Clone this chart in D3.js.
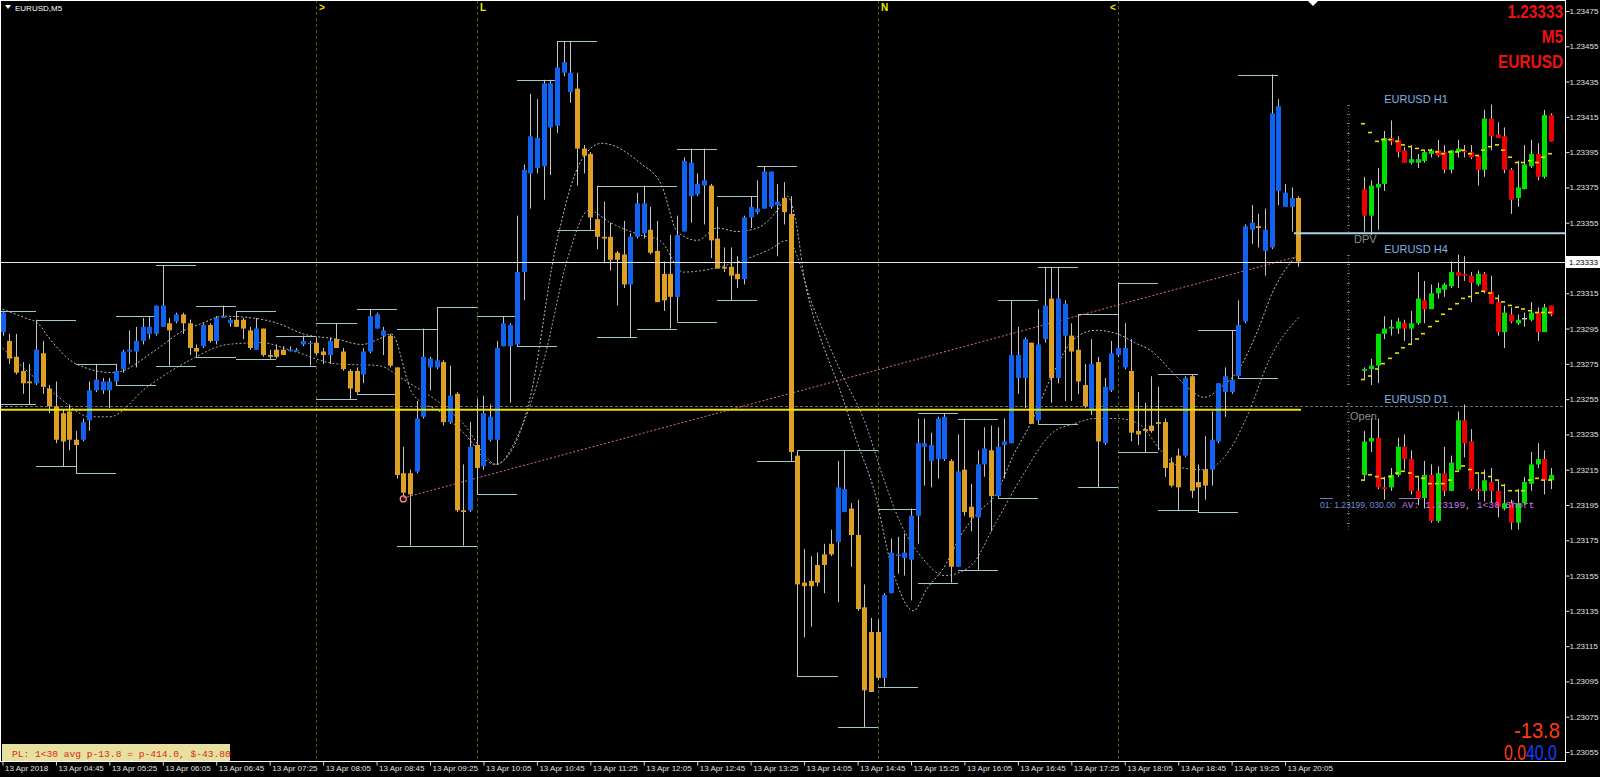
<!DOCTYPE html>
<html><head><meta charset="utf-8">
<script src="https://cdn.jsdelivr.net/npm/d3@7"></script>
<style>
body{margin:0;background:#000;overflow:hidden}
svg{display:block}
</style>
</head><body>
<svg id="c" width="1600" height="777" font-family="Liberation Sans, Arial, sans-serif"></svg>
<script>
// ---------- DATA: EURUSD M5, 13 Apr 2018 04:05 .. 20:15 (195 bars) ----------
const open = [1.23293,1.23288,1.23279,1.23271,1.23265,1.23264,1.23281,1.23261,1.23251,1.23247,
1.23248,1.23232,1.23232,1.23243,1.23260,1.23260,1.23260,1.23265,1.23272,1.23282,
1.23282,1.23288,1.23292,1.23292,1.23296,1.23298,1.23299,1.23303,1.23298,1.23284,
1.23285,1.23297,1.23288,1.23301,1.23298,1.23300,1.23300,1.23294,1.23283,1.23295,
1.23280,1.23283,1.23283,1.23283,1.23283,1.23286,1.23287,1.23287,1.23282,1.23280,
1.23289,1.23282,1.23271,1.23271,1.23269,1.23282,1.23295,1.23291,1.23291,1.23273,
1.23213,1.23213,1.23214,1.23245,1.23273,1.23273,1.23276,1.23242,1.23258,1.23192,
1.23192,1.23229,1.23217,1.23232,1.23232,1.23285,1.23285,1.23286,1.23327,1.23383,
1.23386,1.23387,1.23409,1.23410,1.23440,1.23429,1.23431,1.23397,1.23394,1.23357,
1.23347,1.23347,1.23338,1.23337,1.23320,1.23347,1.23349,1.23351,1.23339,1.23326,
1.23326,1.23313,1.23350,1.23370,1.23371,1.23376,1.23376,1.23346,1.23330,1.23330,
1.23326,1.23323,1.23358,1.23361,1.23363,1.23364,1.23365,1.23369,1.23360,1.23223,
1.23151,1.23152,1.23161,1.23167,1.23173,1.23174,1.23191,1.23193,1.23178,1.23137,
1.23123,1.23123,1.23097,1.23145,1.23167,1.23165,1.23164,1.23189,1.23228,1.23220,
1.23221,1.23221,1.23220,1.23160,1.23215,1.23194,1.23188,1.23218,1.23226,1.23200,
1.23229,1.23230,1.23267,1.23267,1.23287,1.23243,1.23289,1.23312,1.23267,1.23291,
1.23291,1.23283,1.23263,1.23249,1.23276,1.23230,1.23260,1.23280,1.23273,1.23271,
1.23237,1.23238,1.23240,1.23242,1.23242,1.23219,1.23223,1.23223,1.23268,1.23208,
1.23215,1.23215,1.23231,1.23259,1.23259,1.23268,1.23299,1.23351,1.23353,1.23339,
1.23341,1.23373,1.23364,1.23364,1.23369];
const high = [1.23305,1.23292,1.23292,1.23276,1.23275,1.23300,1.23288,1.23263,1.23265,1.23249,
1.23252,1.23237,1.23244,1.23265,1.23275,1.23267,1.23267,1.23275,1.23283,1.23294,
1.23296,1.23301,1.23302,1.23308,1.23331,1.23301,1.23304,1.23304,1.23300,1.23286,
1.23298,1.23298,1.23302,1.23308,1.23301,1.23305,1.23301,1.23296,1.23301,1.23295,
1.23283,1.23286,1.23285,1.23285,1.23284,1.23291,1.23288,1.23290,1.23284,1.23290,
1.23298,1.23284,1.23272,1.23273,1.23284,1.23306,1.23304,1.23296,1.23292,1.23273,
1.23228,1.23215,1.23254,1.23295,1.23279,1.23307,1.23277,1.23274,1.23259,1.23218,
1.23242,1.23255,1.23257,1.23252,1.23288,1.23302,1.23298,1.23359,1.23388,1.23428,
1.23425,1.23436,1.23436,1.23458,1.23458,1.23458,1.23440,1.23399,1.23395,1.23376,
1.23367,1.23355,1.23339,1.23356,1.23349,1.23372,1.23376,1.23364,1.23356,1.23333,
1.23348,1.23359,1.23392,1.23397,1.23383,1.23397,1.23377,1.23364,1.23341,1.23341,
1.23336,1.23359,1.23370,1.23379,1.23387,1.23384,1.23377,1.23378,1.23370,1.23226,
1.23170,1.23166,1.23168,1.23173,1.23181,1.23220,1.23226,1.23196,1.23198,1.23150,
1.23131,1.23130,1.23145,1.23176,1.23177,1.23179,1.23193,1.23244,1.23244,1.23236,
1.23245,1.23247,1.23221,1.23235,1.23244,1.23207,1.23226,1.23239,1.23240,1.23239,
1.23244,1.23311,1.23296,1.23290,1.23287,1.23306,1.23330,1.23330,1.23330,1.23311,
1.23298,1.23303,1.23275,1.23289,1.23279,1.23267,1.23288,1.23321,1.23298,1.23289,
1.23259,1.23253,1.23268,1.23262,1.23244,1.23222,1.23227,1.23268,1.23269,1.23218,
1.23234,1.23248,1.23264,1.23273,1.23294,1.23311,1.23354,1.23365,1.23360,1.23363,
1.23439,1.23425,1.23377,1.23375,1.23370];
const low = [1.23291,1.23275,1.23269,1.23258,1.23252,1.23263,1.23258,1.23247,1.23230,1.23217,
1.23226,1.23213,1.23231,1.23237,1.23259,1.23258,1.23250,1.23263,1.23270,1.23275,
1.23273,1.23286,1.23289,1.23291,1.23296,1.23274,1.23298,1.23292,1.23280,1.23279,
1.23284,1.23287,1.23286,1.23301,1.23296,1.23296,1.23289,1.23283,1.23283,1.23279,
1.23278,1.23278,1.23280,1.23282,1.23282,1.23285,1.23274,1.23280,1.23275,1.23275,
1.23284,1.23271,1.23255,1.23258,1.23264,1.23281,1.23295,1.23280,1.23273,1.23210,
1.23200,1.23172,1.23213,1.23244,1.23260,1.23272,1.23240,1.23241,1.23191,1.23172,
1.23191,1.23201,1.23215,1.23231,1.23218,1.23285,1.23253,1.23285,1.23311,1.23363,
1.23383,1.23368,1.23382,1.23406,1.23438,1.23423,1.23376,1.23383,1.23351,1.23340,
1.23332,1.23328,1.23308,1.23318,1.23290,1.23346,1.23346,1.23337,1.23310,1.23305,
1.23295,1.23299,1.23350,1.23355,1.23370,1.23354,1.23335,1.23329,1.23327,1.23311,
1.23318,1.23320,1.23352,1.23360,1.23363,1.23363,1.23336,1.23354,1.23220,1.23098,
1.23120,1.23126,1.23149,1.23145,1.23166,1.23140,1.23191,1.23160,1.23135,1.23069,
1.23089,1.23096,1.23092,1.23145,1.23156,1.23155,1.23141,1.23173,1.23206,1.23205,
1.23210,1.23220,1.23151,1.23160,1.23189,1.23180,1.23158,1.23211,1.23180,1.23199,
1.23210,1.23230,1.23258,1.23250,1.23241,1.23241,1.23287,1.23253,1.23264,1.23254,
1.23254,1.23258,1.23250,1.23246,1.23205,1.23229,1.23259,1.23279,1.23272,1.23231,
1.23229,1.23225,1.23236,1.23226,1.23211,1.23205,1.23192,1.23222,1.23199,1.23191,
1.23198,1.23206,1.23230,1.23245,1.23258,1.23267,1.23298,1.23343,1.23341,1.23325,
1.23340,1.23365,1.23364,1.23350,1.23330];
const close = [1.23304,1.23278,1.23270,1.23264,1.23264,1.23283,1.23262,1.23251,1.23232,1.23231,
1.23232,1.23229,1.23242,1.23260,1.23266,1.23265,1.23265,1.23271,1.23282,1.23283,
1.23288,1.23296,1.23296,1.23308,1.23308,1.23294,1.23303,1.23298,1.23284,1.23282,
1.23297,1.23288,1.23301,1.23302,1.23300,1.23296,1.23295,1.23284,1.23295,1.23280,
1.23279,1.23279,1.23280,1.23283,1.23283,1.23288,1.23287,1.23281,1.23280,1.23288,
1.23284,1.23272,1.23261,1.23259,1.23282,1.23302,1.23303,1.23294,1.23274,1.23212,
1.23202,1.23201,1.23244,1.23279,1.23278,1.23277,1.23242,1.23257,1.23192,1.23191,
1.23228,1.23216,1.23247,1.23245,1.23284,1.23298,1.23297,1.23327,1.23385,1.23404,
1.23403,1.23434,1.23434,1.23443,1.23446,1.23440,1.23397,1.23393,1.23358,1.23347,
1.23346,1.23334,1.23334,1.23320,1.23347,1.23366,1.23366,1.23338,1.23310,1.23311,
1.23313,1.23348,1.23390,1.23389,1.23377,1.23379,1.23345,1.23329,1.23329,1.23325,
1.23323,1.23358,1.23364,1.23363,1.23384,1.23384,1.23367,1.23361,1.23225,1.23150,
1.23149,1.23149,1.23151,1.23161,1.23167,1.23205,1.23204,1.23178,1.23136,1.23090,
1.23089,1.23097,1.23144,1.23168,1.23167,1.23168,1.23189,1.23230,1.23230,1.23229,
1.23244,1.23245,1.23160,1.23214,1.23191,1.23188,1.23218,1.23227,1.23200,1.23228,
1.23231,1.23280,1.23280,1.23289,1.23241,1.23286,1.23308,1.23267,1.23312,1.23309,
1.23282,1.23265,1.23251,1.23275,1.23231,1.23262,1.23281,1.23284,1.23284,1.23236,
1.23235,1.23237,1.23237,1.23241,1.23216,1.23206,1.23205,1.23267,1.23203,1.23205,
1.23206,1.23232,1.23264,1.23268,1.23266,1.23297,1.23353,1.23355,1.23352,1.23351,
1.23417,1.23421,1.23372,1.23369,1.23333];

// time axis
const tickBars = [0,8,16,24,32,40,48,56,64,72,80,88,96,104,112,120,128,136,144,152,160,168,176,184,192];
const tickLabels = ["13 Apr 2018","13 Apr 04:45","13 Apr 05:25","13 Apr 06:05","13 Apr 06:45","13 Apr 07:25",
"13 Apr 08:05","13 Apr 08:45","13 Apr 09:25","13 Apr 10:05","13 Apr 10:45","13 Apr 11:25","13 Apr 12:05",
"13 Apr 12:45","13 Apr 13:25","13 Apr 14:05","13 Apr 14:45","13 Apr 15:25","13 Apr 16:05","13 Apr 16:45",
"13 Apr 17:25","13 Apr 18:05","13 Apr 18:45","13 Apr 19:25","13 Apr 20:05"];
const priceTicks = [1.23475,1.23455,1.23435,1.23415,1.23395,1.23375,1.23355,1.23335,1.23315,1.23295,1.23275,
1.23255,1.23235,1.23215,1.23195,1.23175,1.23155,1.23135,1.23115,1.23095,1.23075,1.23055];

// session separators
const sessionBars = [47,71,131,167];
const sessionLabels = [">","L","N","<"];

// moving averages
const maFastBars = [0,3.4,5.3,6.9,11,16.6,23,26.7,29.9,33,37.4,41.2,45,50,53.8,56.3,58.2,61.4,65.8,69,73.7,75.9,79,82.8,86.6,89.7,95.4,98.7,101,104,107,110,113,116,117.5,118.8,120.1,121.4,122.7,125.3,127.9,130.5,133.1,136.4,138.3,141,143.5,146.1,148.7,151.3,153.9,157.2,160.4,163.6,166.9,169.5,172.1,174.7,177.3,179.9,182.5,185.1,187.7,190.3,193.8];
const maFast = [1.23306,1.23301,1.23298,1.23290,1.23275,1.23270,1.23283,1.23293,1.23298,1.23302,1.23301,1.23298,1.23292,1.23289,1.23286,1.23289,1.23292,1.23258,1.23247,1.23236,1.23218,1.23224,1.23256,1.23341,1.23390,1.23400,1.23389,1.23376,1.23350,1.23345,1.23352,1.23350,1.23352,1.23362,1.23370,1.23355,1.23322,1.23302,1.23287,1.23261,1.23231,1.23203,1.23160,1.23135,1.23147,1.23160,1.23178,1.23191,1.23201,1.23223,1.23241,1.23269,1.23289,1.23294,1.23292,1.23287,1.23282,1.23272,1.23262,1.23256,1.23262,1.23272,1.23292,1.23317,1.23337];
const maSlowBars = [0,7.8,13.2,16,21.7,28,33.7,38.7,43.7,50,56.3,60.1,69,74,77.1,80.9,84.7,87.8,91,95.5,98.4,101.9,108.4,114.9,117.5,121.4,125.3,129.2,131.8,134.4,137.7,141,144.8,148.7,152.6,157.2,160.4,163.6,166.9,170.1,173.4,176.6,179.9,183.1,186.4,189.6,194.2];
const maSlow = [1.23284,1.23258,1.23245,1.23245,1.23262,1.23277,1.23286,1.23287,1.23282,1.23275,1.23274,1.23266,1.23241,1.23218,1.23234,1.23275,1.23336,1.23362,1.23355,1.23348,1.23345,1.23327,1.23331,1.23340,1.23345,1.23307,1.23272,1.23241,1.23211,1.23185,1.23165,1.23155,1.23160,1.23185,1.23211,1.23236,1.23241,1.23244,1.23244,1.23241,1.23226,1.23216,1.23215,1.23223,1.23246,1.23277,1.23302];

// levels
const trendBars = [60,194];
const trendPrices = [1.23199,1.23336];
const dayOpen = 1.23249;
const openDash = 1.23251;
const dpvLevel = 1.23349;
const lastPrice = 1.23333;

// mini panels (drawn on the main price axis)
const h1Open = [1.23374,1.23359,1.23375,1.23377,1.23403,1.23402,1.23396,1.23389,1.23389,1.23390,1.23394,1.23396,1.23395,1.23385,1.23395,1.23396,1.23395,1.23393,1.23385,1.23414,1.23405,1.23404,1.23385,1.23369,1.23374,1.23387,1.23394,1.23381,1.23416];
const h1High = [1.23381,1.23379,1.23386,1.23407,1.23413,1.23404,1.23398,1.23399,1.23394,1.23396,1.23397,1.23402,1.23399,1.23396,1.23402,1.23399,1.23399,1.23393,1.23419,1.23422,1.23412,1.23409,1.23386,1.23390,1.23399,1.23402,1.23400,1.23419,1.23417];
const h1Low = [1.23350,1.23348,1.23351,1.23373,1.23399,1.23392,1.23389,1.23388,1.23386,1.23389,1.23392,1.23392,1.23383,1.23383,1.23392,1.23392,1.23391,1.23376,1.23381,1.23396,1.23403,1.23383,1.23360,1.23364,1.23374,1.23386,1.23379,1.23380,1.23401];
const h1Close = [1.23359,1.23376,1.23377,1.23403,1.23401,1.23395,1.23389,1.23391,1.23391,1.23395,1.23396,1.23393,1.23385,1.23396,1.23397,1.23395,1.23392,1.23385,1.23414,1.23404,1.23403,1.23385,1.23368,1.23375,1.23388,1.23394,1.23381,1.23416,1.23401];
const h1Ma = [1.23411,1.23406,1.23401,1.23402,1.23402,1.23401,1.23399,1.23398,1.23397,1.23396,1.23396,1.23395,1.23394,1.23395,1.23395,1.23396,1.23394,1.23393,1.23396,1.23398,1.23399,1.23396,1.23392,1.23389,1.23389,1.23390,1.23389,1.23392,1.23394];

const h4Open = [1.23271,1.23272,1.23274,1.23292,1.23295,1.23295,1.23298,1.23295,1.23298,1.23311,1.23306,1.23315,1.23317,1.23319,1.23327,1.23326,1.23325,1.23320,1.23326,1.23316,1.23310,1.23293,1.23303,1.23298,1.23301,1.23300,1.23304,1.23293,1.23308];
const h4High = [1.23273,1.23278,1.23292,1.23302,1.23300,1.23301,1.23300,1.23305,1.23327,1.23322,1.23320,1.23321,1.23321,1.23333,1.23337,1.23336,1.23327,1.23328,1.23327,1.23325,1.23314,1.23308,1.23307,1.23303,1.23304,1.23310,1.23307,1.23309,1.23308];
const h4Low = [1.23266,1.23263,1.23264,1.23289,1.23291,1.23292,1.23288,1.23286,1.23297,1.23298,1.23306,1.23312,1.23313,1.23318,1.23318,1.23322,1.23310,1.23319,1.23315,1.23309,1.23291,1.23284,1.23298,1.23297,1.23296,1.23299,1.23288,1.23293,1.23302];
const h4Close = [1.23272,1.23274,1.23292,1.23295,1.23296,1.23299,1.23295,1.23298,1.23312,1.23306,1.23315,1.23318,1.23320,1.23327,1.23325,1.23325,1.23321,1.23326,1.23316,1.23309,1.23293,1.23304,1.23299,1.23300,1.23301,1.23304,1.23293,1.23307,1.23303];
const h4Ma = [1.23266,1.23268,1.23272,1.23275,1.23278,1.23281,1.23284,1.23286,1.23289,1.23292,1.23296,1.23299,1.23303,1.23306,1.23309,1.23312,1.23313,1.23315,1.23316,1.23315,1.23312,1.23310,1.23308,1.23307,1.23306,1.23305,1.23304,1.23304,1.23304];

const d1Open = [1.23212,1.23231,1.23233,1.23205,1.23205,1.23212,1.23228,1.23221,1.23203,1.23199,1.23212,1.23186,1.23213,1.23203,1.23215,1.23243,1.23231,1.23204,1.23203,1.23208,1.23203,1.23193,1.23196,1.23185,1.23196,1.23207,1.23218,1.23221,1.23209];
const d1High = [1.23237,1.23244,1.23244,1.23211,1.23216,1.23233,1.23235,1.23226,1.23211,1.23220,1.23218,1.23217,1.23228,1.23223,1.23248,1.23252,1.23238,1.23213,1.23215,1.23216,1.23209,1.23207,1.23198,1.23204,1.23211,1.23225,1.23230,1.23226,1.23216];
const d1Low = [1.23209,1.23225,1.23204,1.23198,1.23203,1.23211,1.23215,1.23201,1.23195,1.23193,1.23185,1.23185,1.23200,1.23203,1.23214,1.23222,1.23203,1.23198,1.23197,1.23196,1.23188,1.23192,1.23181,1.23181,1.23195,1.23203,1.23216,1.23201,1.23204];
const d1Close = [1.23231,1.23233,1.23205,1.23204,1.23212,1.23228,1.23221,1.23203,1.23199,1.23212,1.23186,1.23213,1.23203,1.23219,1.23243,1.23230,1.23204,1.23203,1.23209,1.23203,1.23194,1.23196,1.23185,1.23196,1.23208,1.23218,1.23221,1.23209,1.23212];
const d1Ma = [1.23209,1.23212,1.23211,1.23210,1.23211,1.23213,1.23214,1.23213,1.23211,1.23210,1.23207,1.23207,1.23207,1.23209,1.23214,1.23217,1.23215,1.23213,1.23213,1.23211,1.23209,1.23206,1.23203,1.23203,1.23203,1.23209,1.23210,1.23209,1.23209];

// ---------- DRAW ----------
const svg = d3.select("#c");
svg.append("rect").attr("width",1600).attr("height",777).attr("fill","#000");

const PLOT_R = 1565, PLOT_B = 761;
const x = d3.scaleLinear().domain([0,194]).range([2.5, 2.5+194*6.68]);
const y = d3.scaleLinear().domain([1.23055,1.23475]).range([752,11]);
const px = i => Math.round(x(i));

svg.append("defs").append("clipPath").attr("id","plot")
  .append("rect").attr("x",0).attr("y",0).attr("width",PLOT_R).attr("height",PLOT_B);
const g = svg.append("g").attr("clip-path","url(#plot)");

// session separators
sessionBars.forEach((b,k)=>{
  g.append("line").attr("x1",px(b)+0.5).attr("x2",px(b)+0.5).attr("y1",0).attr("y2",PLOT_B)
    .attr("stroke","#4f5f1c").attr("stroke-dasharray","3,3");
  svg.append("text").attr("x", k===3 ? px(b)-8 : px(b)+3).attr("y",11)
    .attr("fill","#e8e800").attr("font-size",10).attr("font-weight","bold").text(sessionLabels[k]);
});

// open dashed line
g.append("line").attr("x1",0).attr("x2",PLOT_R).attr("y1",Math.round(y(openDash))+0.5).attr("y2",Math.round(y(openDash))+0.5)
  .attr("stroke","#6a7070").attr("stroke-dasharray","3,2");

// 30-min block high/low levels (derived from the candles)
const blockStarts = d3.range(-1,191,6);
blockStarts.forEach(s=>{
  const idx = d3.range(Math.max(0,s), Math.min(194,s+5)+1);
  const hi = d3.max(idx,i=>high[i]), lo = d3.min(idx,i=>low[i]);
  [hi,lo].forEach(v=>{
    g.append("line").attr("x1",px(s)).attr("x2",px(s+6)).attr("y1",Math.round(y(v))+0.5).attr("y2",Math.round(y(v))+0.5)
      .attr("stroke","#a4c6d0").attr("stroke-width",1.2);
  });
});

// moving averages
const lineGen = d3.line().curve(d3.curveMonotoneX);
g.append("path").attr("d",lineGen(maFastBars.map((b,i)=>[x(b),y(maFast[i])])))
  .attr("fill","none").attr("stroke","#bdbdbd").attr("stroke-width",1).attr("stroke-dasharray","2,2");
g.append("path").attr("d",lineGen(maSlowBars.map((b,i)=>[x(b),y(maSlow[i])])))
  .attr("fill","none").attr("stroke","#a8a8a8").attr("stroke-width",1).attr("stroke-dasharray","2,2");

// pink trend line
g.append("line").attr("x1",x(trendBars[0])).attr("y1",y(trendPrices[0])).attr("x2",x(trendBars[1])).attr("y2",y(trendPrices[1]))
  .attr("stroke","#e87070").attr("stroke-width",1).attr("stroke-dasharray","2,2");

// candles
const bars = open.map((o,i)=>({i,o,h:high[i],l:low[i],c:close[i]}));
g.selectAll("line.wick").data(bars).join("line").attr("class","wick")
  .attr("x1",d=>px(d.i)+0.5).attr("x2",d=>px(d.i)+0.5)
  .attr("y1",d=>y(d.h)).attr("y2",d=>y(d.l)).attr("stroke","#c4c4c4").attr("stroke-width",1);
g.selectAll("rect.body").data(bars).join("rect").attr("class","body")
  .attr("x",d=>px(d.i)-2).attr("width",5)
  .attr("y",d=>y(Math.max(d.o,d.c)))
  .attr("height",d=>Math.max(1.5, Math.abs(y(d.o)-y(d.c))))
  .attr("fill",d=>d.c>=d.o ? "#1262f0" : "#dea023");

// pink marker
g.append("circle").attr("cx",x(trendBars[0])).attr("cy",y(trendPrices[0])+1).attr("r",3)
  .attr("fill","none").attr("stroke","#ff8a8a").attr("stroke-width",1.3);

// yellow day-open line
g.append("line").attr("x1",0).attr("x2",px(194)+3).attr("y1",y(dayOpen)).attr("y2",y(dayOpen))
  .attr("stroke","#f0e000").attr("stroke-width",2);

// current price line
g.append("line").attr("x1",0).attr("x2",PLOT_R).attr("y1",Math.round(y(lastPrice))+0.5).attr("y2",Math.round(y(lastPrice))+0.5)
  .attr("stroke","#e8e8e8").attr("stroke-width",1);

// DPV line
g.append("line").attr("x1",1294).attr("x2",PLOT_R).attr("y1",y(dpvLevel)).attr("y2",y(dpvLevel))
  .attr("stroke","#a8d4e4").attr("stroke-width",2);
svg.append("text").attr("x",1354).attr("y",243).attr("fill","#8c8c8c").attr("font-size",11).text("DPV");
svg.append("text").attr("x",1350).attr("y",420).attr("fill","#8c8c8c").attr("font-size",11).text("Open");

// mini panels
const mx = d3.scaleLinear().domain([0,28]).range([1364.3, 1364.3+28*6.667]);
function miniPanel(o,h,l,c,ma,title,titleY,rulerTop,rulerBot){
  svg.append("text").attr("x",1416).attr("y",titleY).attr("text-anchor","middle")
    .attr("fill","#7fb2e6").attr("font-size",11).text(title);
  const ticks = d3.range(rulerTop, rulerBot, 9.2);
  svg.append("line").attr("x1",1348.5).attr("x2",1348.5).attr("y1",rulerTop).attr("y2",rulerBot)
    .attr("stroke","#5a5a5a").attr("stroke-dasharray","1,2");
  svg.selectAll(null).data(ticks).join("line").attr("x1",1347).attr("x2",1350)
    .attr("y1",d=>Math.round(d)+0.5).attr("y2",d=>Math.round(d)+0.5).attr("stroke","#6a6a6a");
  const data = o.map((v,i)=>({i,o:v,h:h[i],l:l[i],c:c[i],m:ma[i]}));
  const gp = svg.append("g");
  gp.selectAll("line.w").data(data).join("line")
    .attr("x1",d=>Math.round(mx(d.i))+0.5).attr("x2",d=>Math.round(mx(d.i))+0.5)
    .attr("y1",d=>y(d.h)).attr("y2",d=>y(d.l)).attr("stroke","#c8c8c8");
  gp.selectAll("rect.b").data(data).join("rect")
    .attr("x",d=>Math.round(mx(d.i))-2).attr("width",5)
    .attr("y",d=>y(Math.max(d.o,d.c))).attr("height",d=>Math.max(1.5,Math.abs(y(d.o)-y(d.c))))
    .attr("fill",d=>d.c>d.o?"#00e000":(d.c<d.o?"#ee0000":"#c8c8c8"));
  gp.selectAll("rect.m").data(data).join("rect")
    .attr("x",d=>Math.round(mx(d.i))-3).attr("width",4)
    .attr("y",d=>y(d.m)-1).attr("height",1.6).attr("fill","#e8e000");
}
miniPanel(h1Open,h1High,h1Low,h1Close,h1Ma,"EURUSD H1",103,105,232);
miniPanel(h4Open,h4High,h4Low,h4Close,h4Ma,"EURUSD H4",253,255,384);
miniPanel(d1Open,d1High,d1Low,d1Close,d1Ma,"EURUSD D1",403,403,531);

// D1 info texts
svg.append("line").attr("x1",1320).attr("x2",1333).attr("y1",498.5).attr("y2",498.5).attr("stroke","#5a7ec8");
svg.append("line").attr("x1",1399).attr("x2",1420).attr("y1",498.5).attr("y2",498.5).attr("stroke","#a070c8");
svg.append("text").attr("x",1320).attr("y",508).attr("fill","#6d8fd6").attr("font-size",8.5).text("01: 1.23199, 030.00");
svg.append("text").attr("x",1402).attr("y",508).attr("fill","#c27be8").attr("font-size",9.6)
  .attr("font-family","Liberation Mono, monospace").text("AV: 1.23199, 1<30 Short");

// top-left symbol
svg.append("path").attr("d","M5,5 L11,5 L8,9 Z").attr("fill","#fff");
svg.append("text").attr("x",15).attr("y",11).attr("fill","#fff").attr("font-size",8).text("EURUSD,M5");
// shift marker
svg.append("path").attr("d","M1308,1 L1318,1 L1313,6 Z").attr("fill","#fff");

// top-right labels (narrow bold)
[["1.23333",18],["M5",43],["EURUSD",68]].forEach(([t,yy])=>{
  svg.append("text").attr("transform",`translate(1563,${yy}) scale(0.81,1)`).attr("text-anchor","end")
    .attr("fill","#f01010").attr("font-size",19).attr("font-weight","bold").text(t);
});

// bottom-right labels
svg.append("text").attr("transform","translate(1560,738) scale(0.92,1)").attr("text-anchor","end")
  .attr("fill","#ff3a10").attr("font-size",22).text("-13.8");
svg.append("text").attr("transform","translate(1504,760) scale(0.72,1)")
  .attr("font-size",22).attr("font-family","Liberation Sans, Arial")
  .call(t=>{t.append("tspan").attr("fill","#ff3a10").text("0.0");
            t.append("tspan").attr("fill","#1a3cff").text("40.0");});

// PL box
svg.append("rect").attr("x",2).attr("y",744).attr("width",228).attr("height",17).attr("fill","#e6e29e");
svg.append("text").attr("x",12).attr("y",757).attr("fill","#e02424").attr("font-size",9.6)
  .attr("font-family","Liberation Mono, monospace").text("PL: 1<30 avg p-13.8 = p-414.0, $-43.80");

// frame
svg.append("line").attr("x1",0.5).attr("x2",0.5).attr("y1",0).attr("y2",PLOT_B).attr("stroke","#fff");
svg.append("line").attr("x1",0).attr("x2",PLOT_R).attr("y1",0.5).attr("y2",0.5).attr("stroke","#fff");
svg.append("line").attr("x1",PLOT_R+0.5).attr("x2",PLOT_R+0.5).attr("y1",0).attr("y2",PLOT_B+1).attr("stroke","#fff");
svg.append("line").attr("x1",0).attr("x2",PLOT_R+1).attr("y1",PLOT_B+0.5).attr("y2",PLOT_B+0.5).attr("stroke","#fff");

// price axis
const ya = svg.append("g").attr("transform",`translate(${PLOT_R+0.5},0)`)
  .call(d3.axisRight(y).tickValues(priceTicks).tickSize(4).tickPadding(0).tickFormat(d3.format(".5f")));
ya.select(".domain").remove();
ya.selectAll("line").attr("stroke","#ddd");
ya.selectAll("text").attr("fill","#e0e0e0").attr("font-size",8).attr("font-family","Liberation Sans, Arial");
// current price tag
svg.append("rect").attr("x",1566).attr("y",Math.round(y(lastPrice))-6).attr("width",34).attr("height",12).attr("fill","#fff");
svg.append("text").attr("x",1569).attr("y",Math.round(y(lastPrice))+3).attr("fill","#000").attr("font-size",8).text("1.23333");

// time axis
const xa = svg.append("g").attr("transform",`translate(0,${PLOT_B+0.5})`)
  .call(d3.axisBottom(x).tickValues(tickBars).tickSize(4).tickPadding(0).tickFormat((d,i)=>tickLabels[i]));
xa.select(".domain").remove();
xa.selectAll("line").attr("stroke","#ddd");
xa.selectAll("text").attr("fill","#e0e0e0").attr("font-size",8).attr("text-anchor","start").attr("dx",2)
  .attr("font-family","Liberation Sans, Arial");
</script>
</body></html>
